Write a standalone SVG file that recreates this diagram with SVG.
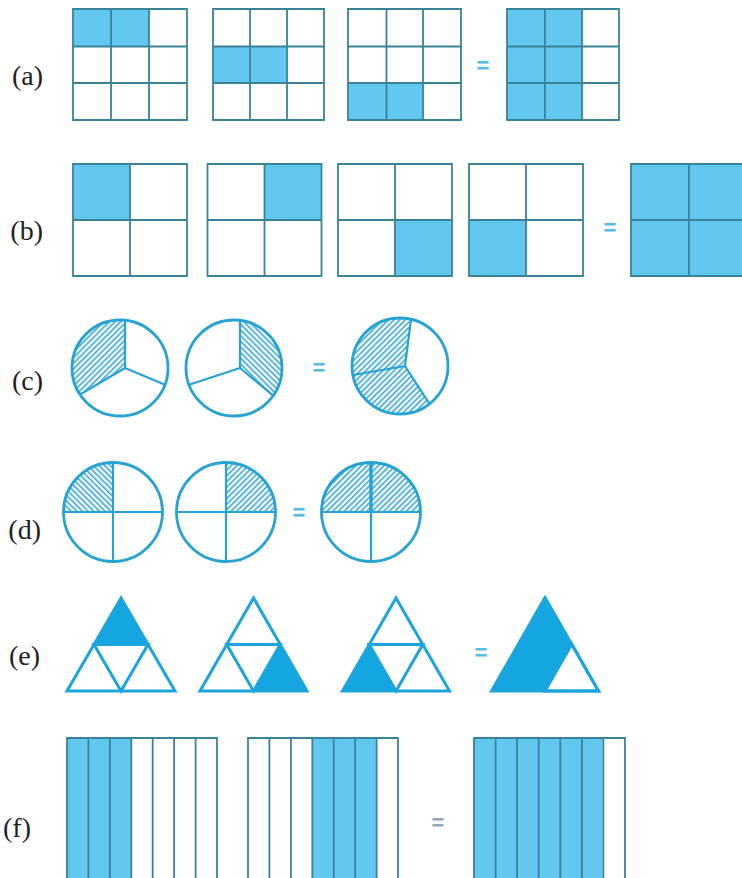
<svg xmlns="http://www.w3.org/2000/svg" width="742" height="878" viewBox="0 0 742 878">
<defs>
<pattern id="hatchF" patternUnits="userSpaceOnUse" width="4" height="4" patternTransform="rotate(45)"><rect width="4" height="4" fill="#ffffff"/><line x1="0.8" y1="0" x2="0.8" y2="4" stroke="#27a3d5" stroke-width="1.5"/></pattern>
<pattern id="hatchB" patternUnits="userSpaceOnUse" width="4" height="4" patternTransform="rotate(-45)"><rect width="4" height="4" fill="#ffffff"/><line x1="0.8" y1="0" x2="0.8" y2="4" stroke="#27a3d5" stroke-width="1.5"/></pattern>
</defs>
<style>
.lbl{font-family:"Liberation Serif","DejaVu Serif",serif;font-size:28px;fill:#222222;text-anchor:end}
.eq{font-family:"Liberation Sans",Arial,sans-serif;font-weight:bold;font-size:22px;fill:#55bce6;text-anchor:middle}
.eqg{font-family:"Liberation Sans",Arial,sans-serif;font-weight:bold;font-size:22px;fill:#93aab5;text-anchor:middle}
.on{fill:#63c8f0}
.grid{fill:none;stroke:#3a8296;stroke-width:1.8}
.circ{fill:none;stroke:#26a2d3;stroke-width:2.8}
.spk{fill:none;stroke:#26a2d3;stroke-width:2.2}
.tri{fill:none;stroke:#1ca5dc;stroke-width:3;stroke-linejoin:miter}
.tfill{fill:#14a6e0}
</style>
<rect width="742" height="878" fill="#ffffff"/>

<g id="labels">
<text class="lbl" x="43" y="85">(a)</text>
<text class="lbl" x="43" y="240">(b)</text>
<text class="lbl" x="43" y="390">(c)</text>
<text class="lbl" x="41" y="539">(d)</text>
<text class="lbl" x="40" y="665">(e)</text>
<text class="lbl" x="31" y="837">(f)</text>
</g>

<g id="a1">
<rect class="on" x="73" y="9" width="76" height="37.5"/>
<path class="grid" d="M73,9H187V120H73Z M111,9V120 M149,9V120 M73,46.5H187 M73,83H187"/>
</g>
<g id="a2">
<rect class="on" x="213" y="46.5" width="74" height="36.5"/>
<path class="grid" d="M213,9H324V120H213Z M250,9V120 M287,9V120 M213,46.5H324 M213,83H324"/>
</g>
<g id="a3">
<rect class="on" x="348" y="83" width="75" height="37"/>
<path class="grid" d="M348,9H461V120H348Z M386.5,9V120 M423,9V120 M348,46.5H461 M348,83H461"/>
</g>
<text class="eq" x="483" y="73">=</text>
<g id="a4">
<rect class="on" x="507" y="9" width="75" height="111"/>
<path class="grid" d="M507,9H619V120H507Z M545,9V120 M582,9V120 M507,46.5H619 M507,83H619"/>
</g>

<g id="b1">
<rect class="on" x="73" y="164" width="57" height="56"/>
<path class="grid" d="M73,164H187V276H73Z M130,164V276 M73,220H187"/>
</g>
<g id="b2">
<rect class="on" x="264.5" y="164" width="57" height="56"/>
<path class="grid" d="M207.5,164H321.5V276H207.5Z M264.5,164V276 M207.5,220H321.5"/>
</g>
<g id="b3">
<rect class="on" x="395" y="220" width="57" height="56"/>
<path class="grid" d="M338,164H452V276H338Z M395,164V276 M338,220H452"/>
</g>
<g id="b4">
<rect class="on" x="469" y="220" width="57" height="56"/>
<path class="grid" d="M469,164H583V276H469Z M526,164V276 M469,220H583"/>
</g>
<text class="eq" x="610" y="235">=</text>
<g id="b5">
<rect class="on" x="631" y="164" width="116" height="112"/>
<path class="grid" d="M631,164H747V276H631Z M689,164V276 M631,220H747"/>
</g>

<g id="c1">
<path d="M125,368 L125,320.3 A48,48 0 0 0 80,394.5 Z" fill="url(#hatchF)"/>
<circle class="circ" cx="120" cy="368" r="48"/>
<path class="spk" d="M125,368 L125,320.3 M125,368 L80,394.5 M125,368 L165,384.7"/>
</g>
<g id="c2">
<path d="M240,368 L240,320.4 A48,48 0 0 1 273.3,395.6 Z" fill="url(#hatchB)"/>
<circle class="circ" cx="234" cy="368" r="48"/>
<path class="spk" d="M240,368 L240,320.4 M240,368 L189,384.7 M240,368 L273.3,395.6"/>
</g>
<text class="eq" x="319" y="375">=</text>
<g id="c3">
<path d="M405,366 L429.5,403.9 A48,48 0 1 1 411,319.3 Z" fill="url(#hatchF)"/>
<circle class="circ" cx="400" cy="366" r="48"/>
<path class="spk" d="M405,366 L411,319.3 M405,366 L353,375 M405,366 L429.5,403.9"/>
</g>

<g id="d1">
<path d="M113,512 L113,462.5 A49.5,49.5 0 0 0 63.5,512 Z" fill="url(#hatchB)"/>
<circle class="circ" cx="113" cy="512" r="49.5"/>
<path class="spk" d="M63.5,512H162.5 M113,462.5V561.5"/>
</g>
<g id="d2">
<path d="M226,512 L226,462.5 A49.5,49.5 0 0 1 275.5,512 Z" fill="url(#hatchF)"/>
<circle class="circ" cx="226" cy="512" r="49.5"/>
<path class="spk" d="M176.5,512H275.5 M226,462.5V561.5"/>
</g>
<text class="eq" x="299" y="520">=</text>
<g id="d3">
<path d="M321.5,512 A49.5,49.5 0 0 1 420.5,512 Z" fill="url(#hatchF)"/>
<circle class="circ" cx="371" cy="512" r="49.5"/>
<path class="spk" d="M321.5,512H420.5 M371,512V561.5"/>
<path d="M371,462.5V512" stroke="#26a2d3" stroke-width="3.4"/>
</g>

<g id="e1">
<polygon class="tfill" points="121,598 94,644.5 148,644.5"/>
<polygon class="tri" points="121,598 67,691 175,691"/>
<polygon class="tri" points="94,644.5 148,644.5 121,691"/>
</g>
<g id="e2">
<polygon class="tfill" points="280.25,644.5 253.5,691 307,691"/>
<polygon class="tri" points="253.5,598 200,691 307,691"/>
<polygon class="tri" points="226.75,644.5 280.25,644.5 253.5,691"/>
</g>
<g id="e3">
<polygon class="tfill" points="369.25,644.5 342.5,691 396,691"/>
<polygon class="tri" points="396,598 342.5,691 449.5,691"/>
<polygon class="tri" points="369.25,644.5 422.75,644.5 396,691"/>
</g>
<text class="eq" x="481" y="660">=</text>
<g id="e4">
<polygon class="tfill" points="545,597.5 491.5,691 545,691 571.75,644.25"/>
<polygon class="tri" points="545,597.5 491.5,691 598.5,691"/>
<polygon class="tri" points="571.75,644.25 545,691 598.5,691"/>
</g>

<g id="f1">
<rect class="on" x="67" y="738" width="64.3" height="145"/>
<path class="grid" d="M67,883V738H217V883 M88.4,738V883 M109.9,738V883 M131.3,738V883 M152.7,738V883 M174.1,738V883 M195.6,738V883"/>
</g>
<g id="f2">
<rect class="on" x="312.3" y="738" width="64.3" height="145"/>
<path class="grid" d="M248,883V738H398V883 M269.4,738V883 M290.9,738V883 M312.3,738V883 M333.7,738V883 M355.1,738V883 M376.6,738V883"/>
</g>
<text class="eqg" x="438" y="830">=</text>
<g id="f3">
<rect class="on" x="474" y="738" width="128.6" height="145"/>
<path class="grid" d="M474,883V738H625V883 M495.6,738V883 M517.1,738V883 M538.7,738V883 M560.3,738V883 M581.9,738V883 M603.4,738V883"/>
</g>
</svg>
